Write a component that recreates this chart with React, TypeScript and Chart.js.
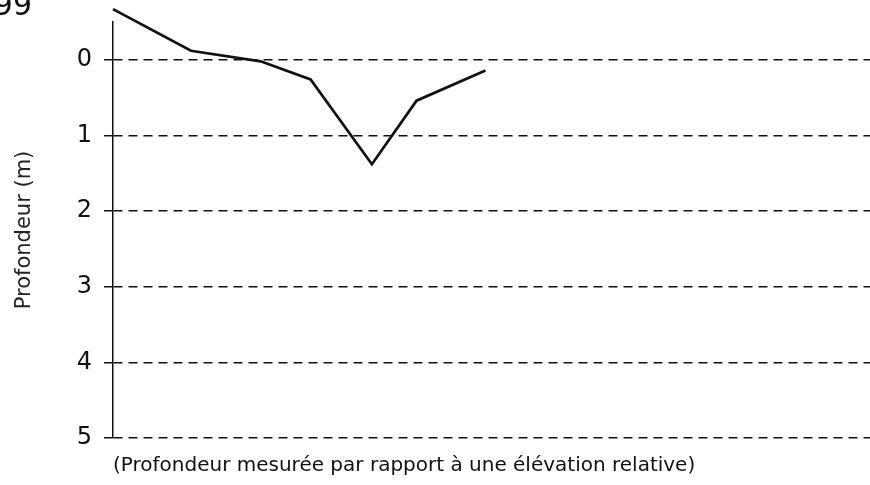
import React, { useEffect, useRef } from "react";
import { Chart, registerables } from "chart.js";

Chart.register(...registerables);

// Horizontal distance along the profile (arbitrary units, 0..100 span of the frame)
const distances = [0, 10.3, 19.5, 26.1, 34.2, 40.1, 49.2];
// Depth (m), positive downwards
const depths = [-0.67, -0.12, 0.02, 0.26, 1.38, 0.54, 0.14];
// Depth tick labels
const depthTicks = [0, 1, 2, 3, 4, 5];

const yTitle = "Profondeur (m)";
const footnote = "(Profondeur mesurée par rapport à une élévation relative)";
const cornerLabel = "99";

const FONT = "'DejaVu Sans', Verdana, sans-serif";

const cornerPlugin = {
  id: "cornerLabel",
  afterDraw(chart: any) {
    const ctx = chart.ctx;
    ctx.save();
    ctx.fillStyle = "#111";
    ctx.font = `30px ${FONT}`;
    ctx.textAlign = "right";
    ctx.textBaseline = "alphabetic";
    ctx.fillText(cornerLabel, 32, 15);
    ctx.restore();
  },
};

export default function App() {
  const ref = useRef<HTMLCanvasElement | null>(null);

  useEffect(() => {
    if (!ref.current) return;
    const chart = new Chart(ref.current, {
      type: "line",
      data: {
        datasets: [
          {
            data: distances.map((d, i) => ({ x: d, y: depths[i] })),
            borderColor: "#111",
            borderWidth: 2.7,
            pointRadius: 0,
            tension: 0,
            clip: false as any,
          },
        ],
      },
      options: {
        animation: false,
        responsive: false,
        maintainAspectRatio: false,
        layout: { padding: { top: 22, right: 0, left: 0, bottom: 0 } },
        plugins: { legend: { display: false }, tooltip: { enabled: false } },
        scales: {
          x: {
            type: "linear",
            min: 0,
            max: 100,
            grid: { display: false },
            border: { display: false },
            ticks: { display: false },
            title: {
              display: true,
              text: footnote,
              align: "start",
              color: "#111",
              font: { family: FONT, size: 20 },
              padding: { top: 0, bottom: 7 },
            },
            afterFit(scale: any) {
              scale.height = 47;
              scale.paddingLeft = 0;
              scale.paddingRight = 0;
            },
          },
          y: {
            type: "linear",
            reverse: true,
            min: -0.5,
            max: 5,
            afterBuildTicks(scale: any) {
              scale.ticks = depthTicks.map((v) => ({ value: v }));
            },
            afterFit(scale: any) {
              scale.width = 113;
              scale.paddingTop = 0;
              scale.paddingBottom = 0;
            },
            grid: {
              color: "#111",
              lineWidth: 1.5,
              drawTicks: true,
              tickLength: 9,
              tickColor: "#111",
              tickWidth: 1.5,
            },
            border: { display: true, color: "#111", width: 1.5, dash: [9, 6] },
            ticks: {
              color: "#111",
              padding: 12,
              font: { family: FONT, size: 24 },
              callback: (v: any) => String(v),
            },
            title: {
              display: true,
              text: yTitle,
              color: "#222",
              font: { family: FONT, size: 21 },
              padding: { top: 12, bottom: 0 },
            },
          },
        },
      },
      plugins: [cornerPlugin],
    });
    return () => chart.destroy();
  }, []);

  return (
    <div style={{ position: "fixed", left: 0, top: 0, width: 870, height: 485, background: "#fff" }}>
      <canvas ref={ref} width={870} height={485} style={{ width: 870, height: 485 }} />
    </div>
  );
}
